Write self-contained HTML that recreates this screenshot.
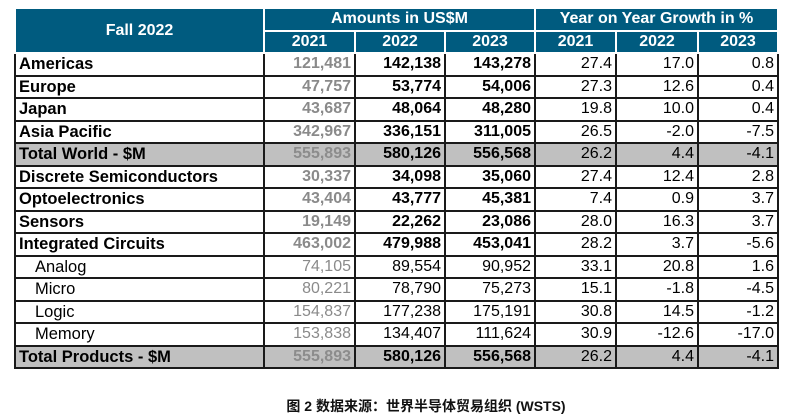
<!DOCTYPE html>
<html><head><meta charset="utf-8"><style>
body{margin:0;width:786px;height:419px;background:#fff;position:relative;overflow:hidden;font-family:"Liberation Sans",Arial,sans-serif}
table{position:absolute;left:14px;top:7px;border-collapse:collapse;table-layout:fixed}
tr{height:22.5px}
td,th{padding:0 3px;font-size:16px;line-height:18px;border:2px solid #1a1a1a;white-space:nowrap;overflow:hidden}
th{background:#005b7f;color:#fff;font-weight:bold;border-color:#fff;text-align:center;font-size:16px}
td{text-align:right}
td.l{text-align:left;font-weight:bold;font-size:16.5px}
td.s{font-weight:normal;padding-left:19px}
td.g{color:#8a8a8a;font-weight:bold}
td.gs{color:#8a8a8a}
td.b{font-weight:bold}
tr.tot td{background:#c0c0c0}
tr.tot td.g{color:#8c8c8c}
.cap{position:absolute;left:0;width:852px;top:396px;text-align:center;font-family:"Liberation Sans","Noto Sans CJK SC",sans-serif;font-weight:bold;font-size:14px;color:#111}
</style></head><body>
<table>
<colgroup><col style="width:249px"><col style="width:91px"><col style="width:90px"><col style="width:90px"><col style="width:81px"><col style="width:82px"><col style="width:80px"></colgroup>
<thead>
<tr><th rowspan="2">Fall 2022</th><th colspan="3">Amounts in US$M</th><th colspan="3">Year on Year Growth in %</th></tr>
<tr><th>2021</th><th>2022</th><th>2023</th><th>2021</th><th>2022</th><th>2023</th></tr>
</thead>
<tbody id="tb"></tbody>
</table>
<div class="cap">图 2 数据来源：世界半导体贸易组织 (WSTS)</div>
<script>
const labels=["Americas","Europe","Japan","Asia Pacific","Total World - $M","Discrete Semiconductors","Optoelectronics","Sensors","Integrated Circuits","Analog","Micro","Logic","Memory","Total Products - $M"];
const amt2021=["121,481","47,757","43,687","342,967","555,893","30,337","43,404","19,149","463,002","74,105","80,221","154,837","153,838","555,893"];
const amt2022=["142,138","53,774","48,064","336,151","580,126","34,098","43,777","22,262","479,988","89,554","78,790","177,238","134,407","580,126"];
const amt2023=["143,278","54,006","48,280","311,005","556,568","35,060","45,381","23,086","453,041","90,952","75,273","175,191","111,624","556,568"];
const g2021=["27.4","27.3","19.8","26.5","26.2","27.4","7.4","28.0","28.2","33.1","15.1","30.8","30.9","26.2"];
const g2022=["17.0","12.6","10.0","-2.0","4.4","12.4","0.9","16.3","3.7","20.8","-1.8","14.5","-12.6","4.4"];
const g2023=["0.8","0.4","0.4","-7.5","-4.1","2.8","3.7","3.7","-5.6","1.6","-4.5","-1.2","-17.0","-4.1"];
const tb=document.getElementById('tb');
labels.forEach((lab,i)=>{
 const sub=i>=9&&i<=12, tot=(i==4||i==13);
 const tr=document.createElement('tr');
 
 
 if(tot)tr.className='tot';
 const cells=[[lab,'l'+(sub?' s':'')],[amt2021[i],sub?'gs':'g'],[amt2022[i],sub?'':'b'],[amt2023[i],sub?'':'b'],[g2021[i],''],[g2022[i],''],[g2023[i],'']];
 cells.forEach(c=>{const td=document.createElement('td');td.textContent=c[0];td.className=c[1];
 
 
 tr.appendChild(td);});
 tb.appendChild(tr);
});
</script>
</body></html>
